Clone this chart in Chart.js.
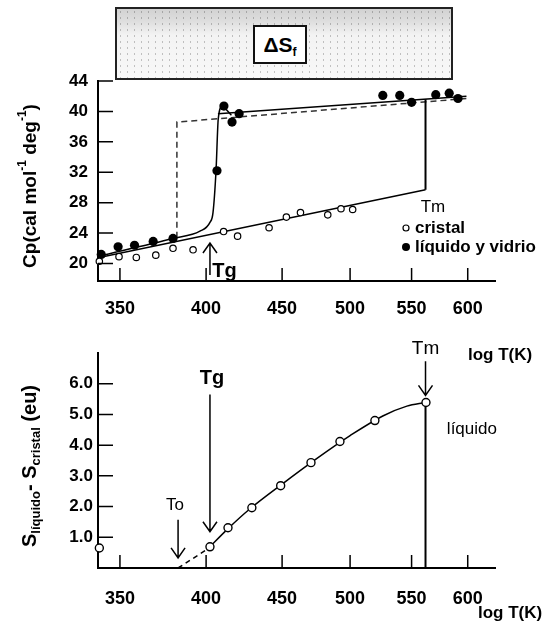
<!DOCTYPE html>
<html>
<head>
<meta charset="utf-8">
<script src="https://cdn.jsdelivr.net/npm/chart.js@4.4.1/dist/chart.umd.min.js"></script>
<style>
  body { margin: 0; background: #fff; }
  #page { position: relative; width: 545px; height: 635px; overflow: hidden; }
  canvas { position: absolute; left: 0; }
  #cpChart { top: 0; }
  #dsChart { top: 320px; }
  /* caja punteada con ΔSf arriba del gráfico */
  #box {
    position: absolute; left: 115px; top: 7px; width: 334px; height: 69px;
    border: 2px solid #222;
    background:
      radial-gradient(circle, rgba(0,0,0,0.22) 0.6px, transparent 1px) 0 0 / 7px 6px,
      linear-gradient(#d2d2d2 0%, #dedede 18%, #f3f3f3 38%, #f8f8f8 100%);
    z-index: 2;
  }
  #boxInner {
    position: absolute; left: 136px; top: 16px; width: 50px; height: 35px;
    border: 2px solid #111; background: #fff;
    font: bold 21px "Liberation Sans", Arial, sans-serif;
    text-align: center; line-height: 35px; color: #000;
  }
  #boxInner sub { font-size: 12px; vertical-align: -4px; }
</style>
</head>
<body>
<div id="page">
  <canvas id="cpChart" width="545" height="320"></canvas>
  <canvas id="dsChart" width="545" height="315"></canvas>
  <div id="box"><div id="boxInner">ΔS<sub>f</sub></div></div>
</div>
<script>
// ejes
const tempTicks = [350, 400, 450, 500, 550, 600];
const cpTicks = [20, 24, 28, 32, 36, 40, 44];
const dsTicks = [1, 2, 3, 4, 5, 6];

// Cp: puntos medidos
const cristalT  = [339, 349.5, 359, 370, 380, 392, 411, 420, 441, 453, 463, 483, 493, 502];
const cristalCp = [20.3, 20.9, 20.8, 21.1, 22.0, 21.8, 24.2, 23.6, 24.7, 26.1, 26.7, 26.4, 27.2, 27.1];
const liquidoT  = [340, 349, 358, 368.5, 380, 406.8, 411.2, 416.4, 421, 526, 540, 550, 571, 583, 591];
const liquidoCp = [21.2, 22.2, 22.4, 22.9, 23.3, 32.2, 40.7, 38.6, 39.7, 42.1, 42.1, 41.2, 42.2, 42.4, 41.7];

// Cp: curvas
const crystalFitT  = [338.3, 562];
const crystalFitCp = [20.75, 29.7];
const tmLineT  = [562, 562];
const tmLineCp = [29.7, 41.6];
const liquidFitT  = [407.4, 598.8];
const liquidFitCp = [39.7, 42.0];
const glassCurveT  = [338.3, 380, 396.2, 402.4, 404.3, 406.2, 407.6, 410, 416];
const glassCurveCp = [20.95, 23.3, 24.25, 25.4, 26.7, 32.2, 39.0, 40.6, 39.5];
const dashedT  = [382.3, 382.3, 599];
const dashedCp = [23.4, 38.6, 41.7];

// S liquido - S cristal
const entropyT = [339, 402.4, 413.8, 429.4, 449, 470.6, 492.2, 519.6, 562.4];
const entropyS = [0.65, 0.69, 1.31, 1.96, 2.68, 3.43, 4.12, 4.80, 5.39];
const entropyFitT = [401, 414, 428, 450.5, 475, 500, 526, 546, 562];
const entropyFitS = [0.62, 1.29, 1.92, 2.75, 3.57, 4.31, 4.95, 5.27, 5.39];
const extrapT = [383, 401];
const extrapS = [0, 0.62];
const tmDropT = [562, 562];
const tmDropS = [0, 5.39];

const FONT = '"Liberation Sans", Arial, sans-serif';

function pts(xs, ys) {
  return xs.map((x, i) => ({ x: x, y: ys[i] }));
}

function lineSet(xs, ys, extra) {
  return Object.assign({
    data: pts(xs, ys), showLine: true, pointRadius: 0,
    borderColor: '#000', borderWidth: 1.5, fill: false
  }, extra || {});
}

// flecha con punta abierta
function arrow(ctx, x, y0, y1) {
  ctx.save();
  ctx.strokeStyle = '#000';
  ctx.lineWidth = 1.5;
  ctx.beginPath();
  ctx.moveTo(x, y0);
  ctx.lineTo(x, y1);
  const d = y1 > y0 ? -1 : 1;
  ctx.moveTo(x - 7, y1 + d * 10);
  ctx.lineTo(x, y1);
  ctx.lineTo(x + 7, y1 + d * 10);
  ctx.stroke();
  ctx.restore();
}

function text(ctx, str, x, y, size, weight, align) {
  ctx.save();
  ctx.fillStyle = '#000';
  ctx.font = (weight || 'bold') + ' ' + size + 'px ' + FONT;
  ctx.textAlign = align || 'center';
  ctx.textBaseline = 'middle';
  ctx.fillText(str, x, y);
  ctx.restore();
}

// titulo vertical con super/subindices
function richVertical(ctx, parts, cx, cy) {
  ctx.save();
  ctx.translate(cx, cy);
  ctx.rotate(-Math.PI / 2);
  ctx.fillStyle = '#000';
  ctx.textBaseline = 'middle';
  ctx.textAlign = 'left';
  let w = 0;
  parts.forEach(p => {
    ctx.font = 'bold ' + p.size + 'px ' + FONT;
    p.w = ctx.measureText(p.t).width;
    w += p.w;
  });
  let x = -w / 2;
  parts.forEach(p => {
    ctx.font = 'bold ' + p.size + 'px ' + FONT;
    ctx.fillText(p.t, x, p.dy || 0);
    x += p.w;
  });
  ctx.restore();
}

// marcas de ejes hacia adentro
function innerTicks(chart, yValues) {
  const ctx = chart.ctx, xs = chart.scales.x, ys = chart.scales.y, a = chart.chartArea;
  ctx.save();
  ctx.strokeStyle = '#000';
  ctx.lineWidth = 1.5;
  ctx.beginPath();
  tempTicks.forEach(v => {
    const px = xs.getPixelForValue(v);
    ctx.moveTo(px, a.bottom);
    ctx.lineTo(px, a.bottom - 13);
  });
  yValues.forEach(v => {
    const py = ys.getPixelForValue(v);
    ctx.moveTo(a.left, py);
    ctx.lineTo(a.left + 15, py);
  });
  ctx.stroke();
  ctx.restore();
}

function xScaleCfg(height, pad) {
  return {
    type: 'logarithmic', min: 338.3, max: 625.9,
    afterBuildTicks: s => { s.ticks = tempTicks.map(v => ({ value: v })); },
    afterFit: s => { s.height = height; },
    ticks: {
      autoSkip: false, maxRotation: 0, padding: pad, color: '#000',
      font: { family: FONT, size: 18, weight: 'bold' },
      callback: v => String(v)
    },
    grid: { display: false, drawTicks: false },
    border: { display: true, color: '#000', width: 2 }
  };
}

function yScaleCfg(min, max, tickVals, fmt, pad) {
  return {
    min: min, max: max,
    afterBuildTicks: s => { s.ticks = tickVals.map(v => ({ value: v })); },
    afterFit: s => { s.width = 98; },
    ticks: {
      padding: pad, color: '#000',
      font: { family: FONT, size: 17, weight: 'bold' },
      callback: fmt
    },
    grid: { display: false, drawTicks: false },
    border: { display: true, color: '#000', width: 2 }
  };
}

// grafico de Cp
new Chart(document.getElementById('cpChart'), {
  type: 'scatter',
  data: {
    datasets: [
      { data: pts(cristalT, cristalCp), pointRadius: 3.2, pointBorderWidth: 1.2,
        pointBorderColor: '#000', pointBackgroundColor: '#fff', clip: false },
      { data: pts(liquidoT, liquidoCp), pointRadius: 4.6, pointBorderWidth: 0,
        pointBackgroundColor: '#000', pointBorderColor: '#000', clip: false },
      lineSet(crystalFitT, crystalFitCp),
      lineSet(tmLineT, tmLineCp, { borderWidth: 2 }),
      lineSet(liquidFitT, liquidFitCp),
      lineSet(glassCurveT, glassCurveCp, { cubicInterpolationMode: 'monotone' }),
      lineSet(dashedT, dashedCp, { borderColor: '#333', borderWidth: 1.5, borderDash: [6, 4] })
    ]
  },
  options: {
    responsive: false, animation: false,
    layout: { padding: { top: 81, right: 50, left: 0, bottom: 0 } },
    plugins: { legend: { display: false }, tooltip: { enabled: false } },
    scales: {
      x: xScaleCfg(39, 17),
      y: yScaleCfg(17.7, 44, cpTicks, v => String(v), 10)
    }
  },
  plugins: [{
    id: 'cpExtras',
    afterDraw(chart) {
      const ctx = chart.ctx, xs = chart.scales.x, ys = chart.scales.y;
      innerTicks(chart, cpTicks);
      // Tg
      const xg = xs.getPixelForValue(402.4);
      arrow(ctx, xg, 275, 243);
      text(ctx, 'Tg', xs.getPixelForValue(411.5), 271, 20, 'bold');
      // Tm y leyenda
      text(ctx, 'Tm', xs.getPixelForValue(568.5), ys.getPixelForValue(27.4), 17, 'normal');
      ctx.save();
      ctx.strokeStyle = '#000'; ctx.fillStyle = '#000'; ctx.lineWidth = 1.2;
      ctx.beginPath(); ctx.arc(406, 228, 3, 0, Math.PI * 2); ctx.stroke();
      ctx.beginPath(); ctx.arc(406, 247, 4, 0, Math.PI * 2); ctx.fill();
      ctx.restore();
      text(ctx, 'cristal', 415, 228, 17, 'bold', 'left');
      text(ctx, 'líquido y vidrio', 415, 247, 17, 'bold', 'left');
      richVertical(ctx, [
        { t: 'Cp(cal mol', size: 19 },
        { t: '-1', size: 12, dy: -8 },
        { t: ' deg', size: 19 },
        { t: '-1', size: 12, dy: -8 },
        { t: ')', size: 19 }
      ], 31, 186);
    }
  }]
});

// grafico de entropia
new Chart(document.getElementById('dsChart'), {
  type: 'scatter',
  data: {
    datasets: [
      { data: pts(entropyT, entropyS), pointRadius: 4, pointBorderWidth: 1.4,
        pointBorderColor: '#000', pointBackgroundColor: '#fff', clip: false },
      lineSet(entropyFitT, entropyFitS, { cubicInterpolationMode: 'monotone' }),
      lineSet(extrapT, extrapS, { borderDash: [5, 4] }),
      lineSet(tmDropT, tmDropS, { borderWidth: 2 })
    ]
  },
  options: {
    responsive: false, animation: false,
    layout: { padding: { top: 33, right: 50, left: 0, bottom: 0 } },
    plugins: { legend: { display: false }, tooltip: { enabled: false } },
    scales: {
      x: xScaleCfg(67, 20),
      y: yScaleCfg(0, 7, dsTicks, v => v.toFixed(1), 5)
    }
  },
  plugins: [{
    id: 'dsExtras',
    afterDraw(chart) {
      const ctx = chart.ctx, xs = chart.scales.x, ys = chart.scales.y;
      innerTicks(chart, dsTicks);
      const xm = xs.getPixelForValue(562);
      text(ctx, 'Tm', xm, 29, 19, 'normal');
      arrow(ctx, xm, ys.getPixelForValue(6.73), ys.getPixelForValue(5.62));
      const xg = xs.getPixelForValue(402.4);
      text(ctx, 'Tg', xg + 2, ys.getPixelForValue(6.18), 20, 'bold');
      arrow(ctx, xg, ys.getPixelForValue(5.65), ys.getPixelForValue(1.18));
      const xo = xs.getPixelForValue(383);
      text(ctx, 'To', xo - 3, ys.getPixelForValue(2.03), 17, 'normal');
      arrow(ctx, xo, ys.getPixelForValue(1.57), ys.getPixelForValue(0.33));
      text(ctx, 'líquido', xs.getPixelForValue(580.9), ys.getPixelForValue(4.51), 17, 'normal', 'left');
      text(ctx, 'log T(K)', 468, 35, 17, 'bold', 'left');
      text(ctx, 'log T(K)', 478, 293, 17, 'bold', 'left');
      richVertical(ctx, [
        { t: 'S', size: 20 },
        { t: 'líquido', size: 13, dy: 6 },
        { t: '- S', size: 20 },
        { t: 'cristal', size: 13, dy: 6 },
        { t: ' (eu)', size: 20 }
      ], 30, 146);
    }
  }]
});
</script>
</body>
</html>
